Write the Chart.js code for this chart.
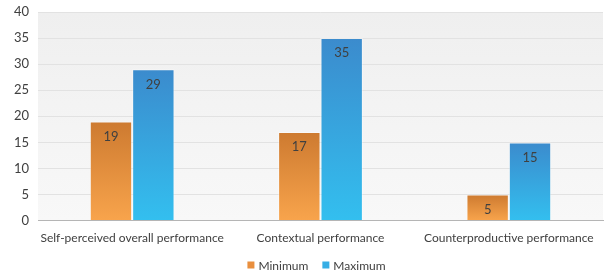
<!DOCTYPE html>
<html>
<head>
<meta charset="utf-8">
<script src="https://cdn.jsdelivr.net/npm/chart.js@4/dist/chart.umd.min.js"></script>
<style>
    html, body { margin: 0; padding: 0; background: #fff; }
    #wrap { width: 605px; height: 276px; position: relative; }
</style>
</head>
<body>
<div id="wrap"><canvas id="chart"></canvas></div>
<script>
const categories = ['Self-perceived overall performance', 'Contextual performance', 'Counterproductive performance'];
const seriesNames = ['Minimum', 'Maximum'];
const minimumValues = [19, 17, 5];
const maximumValues = [29, 35, 15];
const yTicks = { min: 0, max: 40, step: 5 };

const FONT = 'Lato, "Open Sans", sans-serif';
const legendColors = ['#e98f3e', '#36aee5'];

// gradient per bar: darker at the top, lighter at the base
function barGradient(topColor, bottomColor) {
    return function(ctx) {
        const chart = ctx.chart;
        if (!chart.chartArea || ctx.type !== 'data') return bottomColor;
        const y = chart.scales.y;
        const top = y.getPixelForValue(ctx.raw);
        const base = y.getPixelForValue(0);
        const g = chart.ctx.createLinearGradient(0, top, 0, base);
        g.addColorStop(0, topColor);
        g.addColorStop(1, bottomColor);
        return g;
    };
}

const plotBackground = {
    id: 'plotBackground',
    beforeDraw(chart) {
        const { ctx, chartArea: a } = chart;
        const g = ctx.createLinearGradient(0, a.top, 0, a.bottom);
        g.addColorStop(0, '#efefef');
        g.addColorStop(1, '#f8f8f8');
        ctx.save();
        ctx.fillStyle = g;
        ctx.fillRect(a.left, a.top, a.right - a.left, a.bottom - a.top);
        ctx.restore();
    }
};

const barLabels = {
    id: 'barLabels',
    afterDatasetsDraw(chart) {
        const ctx = chart.ctx;
        ctx.save();
        ctx.font = '13px ' + FONT;
        ctx.fillStyle = '#404040';
        ctx.textAlign = 'center';
        ctx.textBaseline = 'middle';
        chart.data.datasets.forEach((ds, i) => {
            chart.getDatasetMeta(i).data.forEach((bar, j) => {
                ctx.fillText(ds.data[j], bar.x, bar.y + 15);
            });
        });
        ctx.restore();
    }
};

// bottom legend, drawn by hand so spacing matches the original
const bottomLegend = {
    id: 'bottomLegend',
    afterDraw(chart) {
        const ctx = chart.ctx;
        const a = chart.chartArea;
        ctx.save();
        ctx.font = '12px ' + FONT;
        ctx.textBaseline = 'middle';
        const box = 7, gapText = 4, gapItem = 14;
        const widths = seriesNames.map(n => box + gapText + ctx.measureText(n).width);
        const total = widths.reduce((s, w) => s + w, 0) + gapItem * (widths.length - 1);
        let x = (a.left + a.right) / 2 - 4 - total / 2;
        const y = chart.height - 11;
        seriesNames.forEach((name, i) => {
            ctx.fillStyle = legendColors[i];
            ctx.fillRect(x, y - box / 2, box, box);
            ctx.fillStyle = '#404040';
            ctx.fillText(name, x + box + gapText, y + 1);
            x += widths[i] + gapItem;
        });
        ctx.restore();
    }
};

new Chart(document.getElementById('chart'), {
    type: 'bar',
    data: {
        labels: categories,
        datasets: [
            {
                label: seriesNames[0],
                data: minimumValues,
                backgroundColor: barGradient('#cd7a30', '#f8a44c'),
                borderColor: 'rgba(255,255,255,0.4)',
                borderWidth: 1
            },
            {
                label: seriesNames[1],
                data: maximumValues,
                backgroundColor: barGradient('#3b8bcd', '#33bfef'),
                borderColor: 'rgba(255,255,255,0.4)',
                borderWidth: 1
            }
        ]
    },
    options: {
        responsive: true,
        maintainAspectRatio: false,
        animation: false,
        layout: { padding: { top: 0, right: 2, left: 0, bottom: 21 } },
        datasets: { bar: { categoryPercentage: 0.45, barPercentage: 1.0 } },
        scales: {
            x: {
                grid: { display: false, drawTicks: false },
                border: { color: '#b5b5b5', width: 1 },
                ticks: { color: '#404040', font: { family: FONT, size: 12 }, padding: 10, maxRotation: 0, autoSkip: false }
            },
            y: {
                min: yTicks.min,
                max: yTicks.max,
                ticks: { stepSize: yTicks.step, color: '#404040', font: { family: FONT, size: 13 }, padding: 9 },
                grid: { color: '#e2e2e2', drawTicks: false },
                border: { display: false },
                afterFit(scale) { scale.width = 38; scale.paddingTop = 12; }
            }
        },
        plugins: {
            legend: { display: false },
            tooltip: { enabled: false }
        }
    },
    plugins: [plotBackground, barLabels, bottomLegend]
});
</script>
</body>
</html>
